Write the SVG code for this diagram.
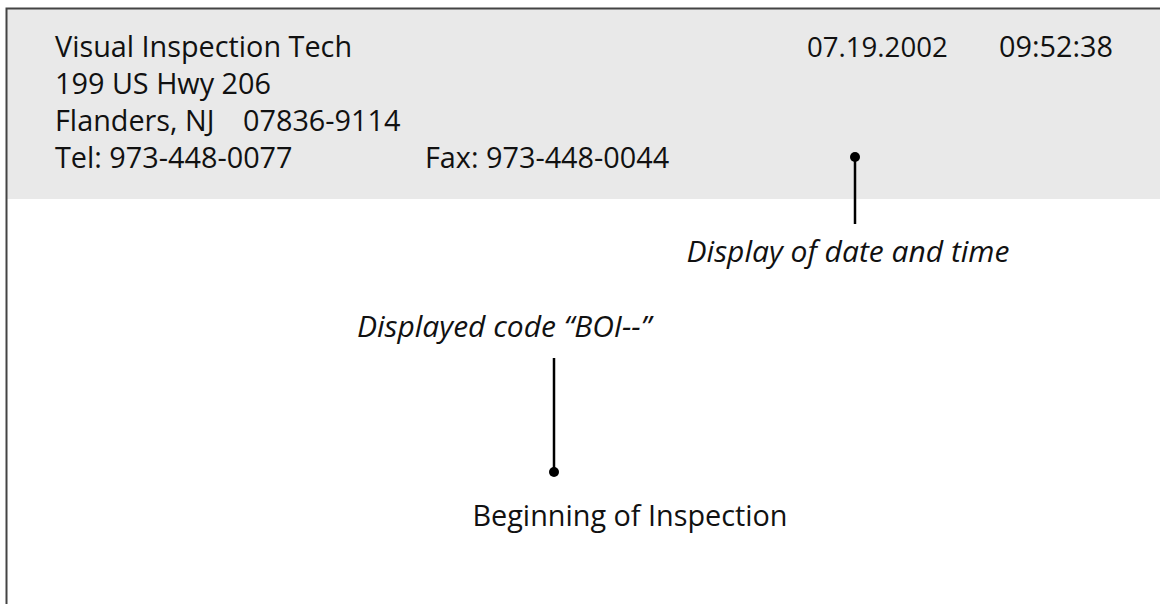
<svg xmlns="http://www.w3.org/2000/svg" width="1160" height="604" viewBox="0 0 1160 604">
  <style>
    .t { font-family: "Open Sans", "Liberation Sans", sans-serif; font-size: 28.8px; fill: #111; }
    .i { font-style: italic; font-size: 30px; }
    .lead { stroke: #000; stroke-width: 2.5; fill: none; }
    .dot { fill: #000; }
  </style>
  <rect x="0" y="0" width="1160" height="604" fill="#fff"/>
  <!-- header band -->
  <g id="header">
    <rect x="7" y="9" width="1153" height="190" fill="#e9e9e9"/>
    <path d="M6.5 604 V8.5 H1160" stroke="#444" stroke-width="2" fill="none"/>
    <text class="t" x="55" y="57">Visual Inspection Tech</text>
    <text class="t" x="55" y="94">199 US Hwy 206</text>
    <text class="t" x="55" y="131">Flanders, NJ<tspan x="243">07836-9114</tspan></text>
    <text class="t" x="55" y="168">Tel: 973-448-0077</text>
    <text class="t" x="425" y="168">Fax: 973-448-0044</text>
    <text class="t" x="807" y="57" style="font-size:27.6px">07.19.2002</text>
    <text class="t" x="999" y="57">09:52:38</text>
  </g>
  <g id="label-datetime">
    <text class="t i" x="848" y="262" text-anchor="middle">Display of date and time</text>
  </g>
  <g id="label-code">
    <text class="t i" x="504" y="337" text-anchor="middle">Displayed code “BOI--”</text>
  </g>
  <g id="label-boi">
    <text class="t" x="630" y="526" text-anchor="middle">Beginning of Inspection</text>
  </g>
  <g id="connectors">
    <line class="lead" x1="855" y1="157" x2="855" y2="224"/>
    <circle class="dot" cx="855" cy="157" r="5"/>
    <line class="lead" x1="554" y1="358" x2="554" y2="472"/>
    <circle class="dot" cx="554" cy="472" r="5"/>
  </g>
</svg>
